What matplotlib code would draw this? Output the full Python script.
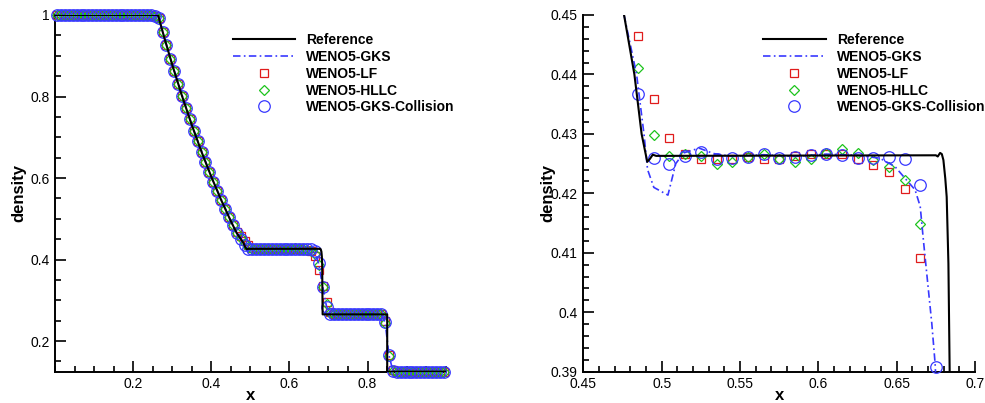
import numpy as np
import matplotlib.pyplot as plt
from matplotlib.ticker import MultipleLocator, FixedLocator, FuncFormatter

plt.rcParams['font.family'] = ['Liberation Sans', 'DejaVu Sans']

# cell centres of the 100-cell grid
x_cells = np.arange(100) * 0.01 + 0.005

# shared parts of the numerical solutions
rho_head = [1.0] * 25            # x = 0.005 ... 0.245
rho_fan = [0.998, 0.992, 0.958, 0.926, 0.893, 0.862, 0.831, 0.801, 0.772, 0.744,
           0.716, 0.690, 0.664, 0.639, 0.615, 0.591, 0.569, 0.547, 0.525, 0.504,
           0.484]                # x = 0.255 ... 0.455
rho_post = [0.2656] * 13         # x = 0.715 ... 0.835
rho_tail = [0.125] * 13          # x = 0.875 ... 0.995

# x = 0.465 ... 0.705
lf_mid = [0.468, 0.457, 0.4465, 0.4358, 0.4293, 0.4267, 0.4257, 0.4257, 0.4257, 0.4261,
          0.4257, 0.4258, 0.4262, 0.4266, 0.4267, 0.4267, 0.4257, 0.4247, 0.4236, 0.4207,
          0.4091, 0.374, 0.335, 0.296, 0.271]
hllc_mid = [0.466, 0.453, 0.4411, 0.4298, 0.4263, 0.4266, 0.4262, 0.4250, 0.4253, 0.4261,
            0.4266, 0.4258, 0.4253, 0.4258, 0.4268, 0.4274, 0.4268, 0.4256, 0.4245, 0.4222,
            0.4148, 0.386, 0.333, 0.290, 0.268]
coll_mid = [0.465, 0.451, 0.4367, 0.4260, 0.4249, 0.4263, 0.4270, 0.4258, 0.4259, 0.4261,
            0.4266, 0.4260, 0.4261, 0.4264, 0.4267, 0.4264, 0.4259, 0.4259, 0.4261, 0.4258,
            0.4214, 0.3908, 0.333, 0.284, 0.267]
# x = 0.845, 0.855, 0.865
lf_shock = [0.250, 0.166, 0.128]
hllc_shock = [0.245, 0.163, 0.127]
coll_shock = [0.247, 0.165, 0.127]

rho_lf = np.array(rho_head + rho_fan + lf_mid + rho_post + lf_shock + rho_tail)
rho_hllc = np.array(rho_head + rho_fan + hllc_mid + rho_post + hllc_shock + rho_tail)
rho_coll = np.array(rho_head + rho_fan + coll_mid + rho_post + coll_shock + rho_tail)

# reference solution
ref_x = [0.0, 0.2634, 0.28, 0.30, 0.325, 0.35, 0.375, 0.40, 0.425, 0.45,
         0.465, 0.476, 0.4826, 0.4872, 0.4908, 0.4925, 0.4943, 0.4965, 0.6750, 0.6762,
         0.6777, 0.6788, 0.6798, 0.6810, 0.6819, 0.6830, 0.6838, 0.6850, 0.8504, 0.8504,
         1.0]
ref_rho = [1.0, 1.0, 0.9428, 0.8775, 0.8011, 0.7300, 0.6640, 0.6030, 0.5465, 0.4943,
           0.4649, 0.4500, 0.4400, 0.4300, 0.4253, 0.4258, 0.4265, 0.4263, 0.4264, 0.4262,
           0.4268, 0.4266, 0.4256, 0.4225, 0.4194, 0.4082, 0.3900, 0.2656, 0.2656, 0.125,
           0.125]

# WENO5-GKS line
gks_x = [0.0, 0.245, 0.255, 0.265, 0.275, 0.30, 0.35, 0.40, 0.45, 0.465,
         0.476, 0.484, 0.4887, 0.4910, 0.4950, 0.5040, 0.5090, 0.5140, 0.5240, 0.5330,
         0.5450, 0.5650, 0.5850, 0.6050, 0.6250, 0.6393, 0.6489, 0.6564, 0.6617, 0.6650,
         0.6670, 0.6696, 0.6724, 0.6745, 0.685, 0.695, 0.705, 0.715, 0.835, 0.845,
         0.855, 0.865, 0.875, 0.995]
gks_rho = [1.0, 1.0, 0.998, 0.993, 0.960, 0.8775, 0.7300, 0.6030, 0.4943, 0.466,
           0.450, 0.440, 0.430, 0.4240, 0.4210, 0.4197, 0.4250, 0.4268, 0.4276, 0.4267,
           0.4262, 0.4265, 0.4262, 0.4266, 0.4264, 0.4259, 0.4245, 0.4222, 0.4206, 0.4178,
           0.4122, 0.4054, 0.3981, 0.3914, 0.335, 0.285, 0.267, 0.2656, 0.2656, 0.247,
           0.165, 0.127, 0.125, 0.125]

labels = ['Reference', 'WENO5-GKS', 'WENO5-LF', 'WENO5-HLLC', 'WENO5-GKS-Collision']
c_lf = '#e01c1c'
c_hllc = '#1cc41c'
c_blue = '#3838ff'


def draw(ax, xlim, ylim):
    h_ref, = ax.plot(ref_x, ref_rho, color='k', lw=1.5, zorder=5)
    h_gks, = ax.plot(gks_x, gks_rho, color=c_blue, lw=1.2, dashes=(4.5, 2.0, 1.0, 2.0), zorder=4)
    inside = lambda y: (x_cells >= xlim[0]) & (x_cells <= xlim[1]) & (y >= ylim[0]) & (y <= ylim[1])
    m = inside(rho_lf)
    h_lf, = ax.plot(x_cells[m], rho_lf[m], ls='none', marker='s', ms=5.8, mfc='none',
                    mec=c_lf, mew=0.9, clip_on=False, zorder=3)
    m = inside(rho_hllc)
    h_hllc, = ax.plot(x_cells[m], rho_hllc[m], ls='none', marker='D', ms=5.4, mfc='none',
                      mec=c_hllc, mew=0.9, clip_on=False, zorder=3)
    m = inside(rho_coll)
    h_coll, = ax.plot(x_cells[m], rho_coll[m], ls='none', marker='o', ms=8.3, mfc='none',
                      mec=c_blue, mew=0.9, clip_on=False, zorder=3)
    ax.set_xlim(*xlim)
    ax.set_ylim(*ylim)
    for s in ['top', 'right']:
        ax.spines[s].set_visible(False)
    for s in ['left', 'bottom']:
        ax.spines[s].set_linewidth(1.4)
    ax.tick_params(which='both', direction='in', width=1.2, labelsize=10, pad=4)
    ax.tick_params(which='major', length=8)
    ax.tick_params(which='minor', length=4.5)
    fmt = FuncFormatter(lambda v, p: '%g' % round(v, 4))
    ax.xaxis.set_major_formatter(fmt)
    ax.yaxis.set_major_formatter(fmt)
    ax.set_xlabel('x', fontsize=12, fontweight='bold')
    ax.set_ylabel('density', fontsize=12, fontweight='bold')
    return [h_ref, h_gks, h_lf, h_hllc, h_coll]


fig = plt.figure(figsize=(9.85, 4.03), dpi=100)
ax1 = fig.add_axes([0.0560, 0.0777, 0.3964, 0.8851])
ax2 = fig.add_axes([0.5922, 0.0777, 0.3977, 0.8851])

handles = draw(ax1, (0.0, 1.0), (0.125, 1.0))
ax1.xaxis.set_major_locator(FixedLocator([0.2, 0.4, 0.6, 0.8]))
ax1.xaxis.set_minor_locator(MultipleLocator(0.05))
ax1.yaxis.set_major_locator(FixedLocator([0.2, 0.4, 0.6, 0.8, 1.0]))
ax1.yaxis.set_minor_locator(MultipleLocator(0.05))
ax1.xaxis.set_label_coords(0.5, -0.045)
ax1.yaxis.set_label_coords(-0.075, 0.5)
ax1.legend(handles, labels, loc='upper left', bbox_to_anchor=(0.455, 0.949), frameon=False,
           prop={'weight': 'bold', 'size': 10}, handlelength=4.5, handletextpad=0.8,
           borderpad=0, borderaxespad=0, labelspacing=0.2, numpoints=1)

handles = draw(ax2, (0.45, 0.7), (0.39, 0.45))
ax2.xaxis.set_major_locator(MultipleLocator(0.05))
ax2.xaxis.set_minor_locator(MultipleLocator(0.01))
ax2.yaxis.set_major_locator(MultipleLocator(0.01))
ax2.yaxis.set_minor_locator(MultipleLocator(0.002))
ax2.xaxis.set_label_coords(0.5, -0.045)
ax2.yaxis.set_label_coords(-0.072, 0.5)
ax2.legend(handles, labels, loc='upper left', bbox_to_anchor=(0.459, 0.949), frameon=False,
           prop={'weight': 'bold', 'size': 10}, handlelength=4.5, handletextpad=0.8,
           borderpad=0, borderaxespad=0, labelspacing=0.2, numpoints=1)

fig.savefig('out.png', dpi=100)
